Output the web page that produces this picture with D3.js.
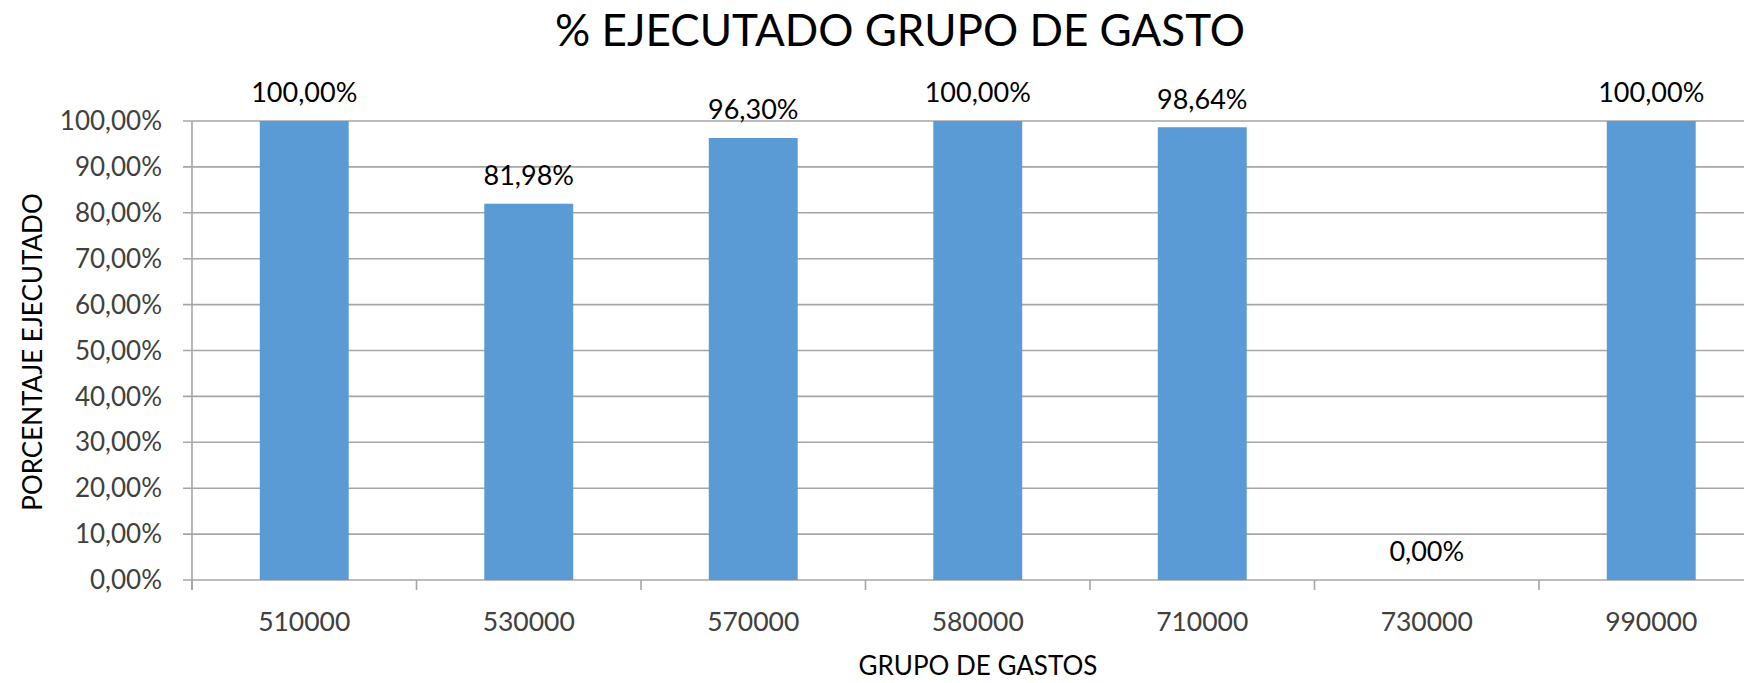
<!DOCTYPE html>
<html><head><meta charset="utf-8">
<script src="https://cdn.jsdelivr.net/npm/d3@7"></script>
<style>body{margin:0;background:#fff;} svg{display:block;}</style>
</head><body>
<svg id="c" width="1744" height="683"></svg>
<script>
const categories = ["510000","530000","570000","580000","710000","730000","990000"];
const values = [100.00, 81.98, 96.30, 100.00, 98.64, 0.00, 100.00];
const yTicks = [0,10,20,30,40,50,60,70,80,90,100];
const title = "% EJECUTADO GRUPO DE GASTO";
const xTitle = "GRUPO DE GASTOS";
const yTitle = "PORCENTAJE EJECUTADO";

const FONT = "Lato, 'Open Sans', sans-serif";
const fmt = v => v.toFixed(2).replace(".", ",") + "%";
const svg = d3.select("#c");
const L = 192, R = 1763.5, T = 121, B = 580;

const x = d3.scaleBand().domain(categories).range([L, R]).paddingInner(0.604).paddingOuter(0.302);
const y = d3.scaleLinear().domain([0, 100]).range([B, T]);

// gridlines
svg.append("g").selectAll("line").data(yTicks).join("line")
  .attr("x1", L - 9).attr("x2", R).attr("y1", d => y(d)).attr("y2", d => y(d))
  .attr("stroke", "#a6a6a6").attr("stroke-width", 1.6);

// y axis line
svg.append("line").attr("x1", L).attr("x2", L).attr("y1", T).attr("y2", B + 10)
  .attr("stroke", "#a6a6a6").attr("stroke-width", 1.6);

// x category boundary ticks
const step = x.step();
const bounds = d3.range(categories.length + 1).map(i => L + i * step);
svg.append("g").selectAll("line").data(bounds).join("line")
  .attr("x1", d => d).attr("x2", d => d).attr("y1", B).attr("y2", B + 10)
  .attr("stroke", "#a6a6a6").attr("stroke-width", 1.6);

// bars
svg.append("g").selectAll("rect").data(values).join("rect")
  .attr("x", (d, i) => x(categories[i])).attr("width", x.bandwidth())
  .attr("y", d => y(d)).attr("height", d => B - y(d))
  .attr("fill", "#5b9bd5");

// y tick labels
svg.append("g").selectAll("text").data(yTicks).join("text")
  .attr("x", 162).attr("y", d => y(d)).attr("dy", "0.35em")
  .attr("text-anchor", "end").attr("font-family", FONT).attr("font-size", 26)
  .attr("fill", "#404040").text(d => fmt(d));

// x tick labels
svg.append("g").selectAll("text").data(categories).join("text")
  .attr("x", d => x(d) + x.bandwidth() / 2).attr("y", 622).attr("dy", "0.35em")
  .attr("text-anchor", "middle").attr("font-family", FONT).attr("font-size", 26.5)
  .attr("fill", "#404040").text(d => d);

// data labels
svg.append("g").selectAll("text").data(values).join("text")
  .attr("x", (d, i) => x(categories[i]) + x.bandwidth() / 2).attr("y", d => y(d) - 28).attr("dy", "0.35em")
  .attr("text-anchor", "middle").attr("font-family", FONT).attr("font-size", 27)
  .attr("fill", "#000").text(d => fmt(d));

// title
svg.append("text").attr("x", 900).attr("y", 31).attr("dy", "0.35em")
  .attr("text-anchor", "middle").attr("font-family", FONT).attr("font-size", 44)
  .attr("fill", "#000").text(title);

// axis titles
svg.append("text").attr("x", 978).attr("y", 666).attr("dy", "0.35em")
  .attr("text-anchor", "middle").attr("font-family", FONT).attr("font-size", 26)
  .attr("fill", "#000").text(xTitle);
svg.append("text").attr("transform", "translate(33,352) rotate(-90)").attr("dy", "0.35em")
  .attr("text-anchor", "middle").attr("font-family", FONT).attr("font-size", 26)
  .attr("fill", "#000").text(yTitle);
</script>
</body></html>
